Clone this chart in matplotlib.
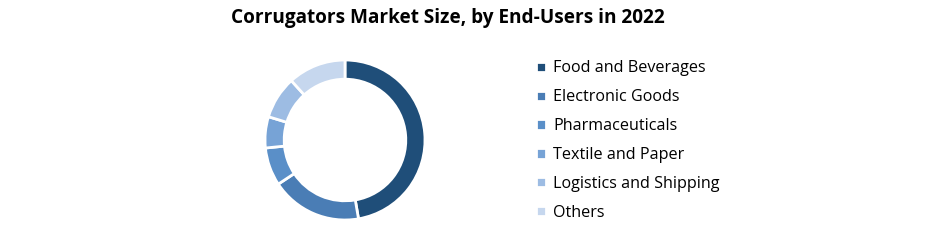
import matplotlib.pyplot as plt

segments = ['Food and Beverages', 'Electronic Goods', 'Pharmaceuticals',
            'Textile and Paper', 'Logistics and Shipping', 'Others']
shares = [47.3, 18.4, 7.7, 6.3, 8.6, 11.7]
colors = ['#1f4e79', '#4a7db5', '#5a8fc8', '#77a3d6', '#9dbce3', '#c6d7ee']

plt.rcParams['font.family'] = ['Open Sans', 'DejaVu Sans']

fig = plt.figure(figsize=(9.27, 2.42), dpi=100)

# donut
ax = fig.add_axes([265 / 927, 1 - 220 / 242, 160 / 927, 160 / 242])
wedges, _ = ax.pie(shares, colors=colors, startangle=90, counterclock=False,
                   radius=1.0, wedgeprops=dict(width=0.24, edgecolor='white', linewidth=2))
ax.set_aspect('equal')
ax.set_xlim(-1.0, 1.0)
ax.set_ylim(-1.0, 1.0)

fig.text(448 / 927, 1 - 18 / 242, 'Corrugators Market Size, by End-Users in 2022',
         ha='center', va='center', fontsize=13.7, fontweight='bold')

fig.legend(wedges, segments, loc='upper left', bbox_to_anchor=(530 / 927, 1 - 54 / 242),
           frameon=False, fontsize=11.6, handlelength=0.6, handleheight=0.6,
           handletextpad=0.45, labelspacing=0.8, borderaxespad=0)

fig.savefig('out.png', dpi=100)
